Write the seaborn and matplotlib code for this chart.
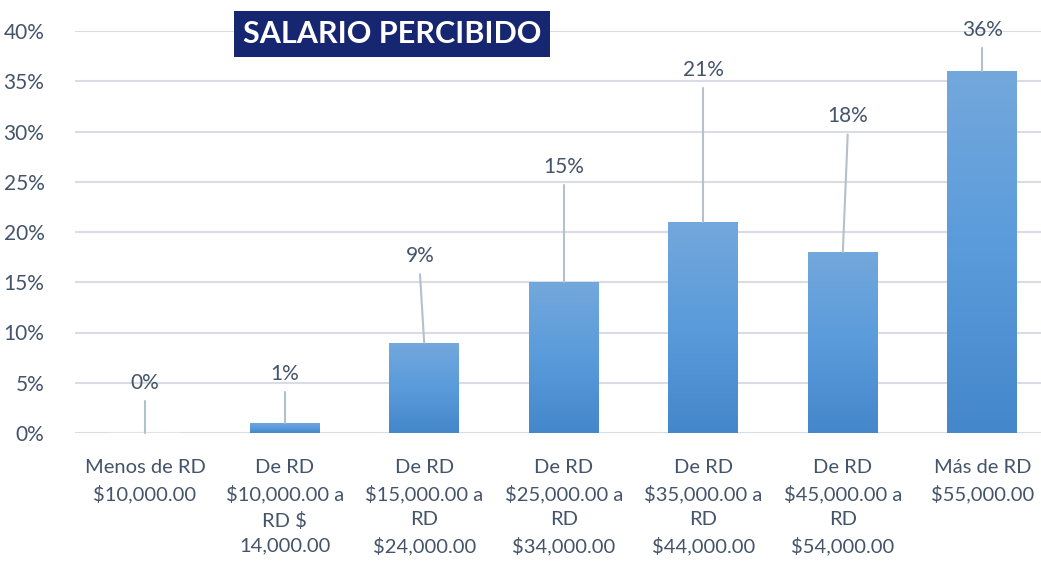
import numpy as np
import matplotlib
matplotlib.use("Agg")
import matplotlib.pyplot as plt
import seaborn as sns
from matplotlib.colors import LinearSegmentedColormap

categories = [
    "Menos de RD\n$10,000.00",
    "De RD\n$10,000.00 a\nRD $\n14,000.00",
    "De RD\n$15,000.00 a\nRD\n$24,000.00",
    "De RD\n$25,000.00 a\nRD\n$34,000.00",
    "De RD\n$35,000.00 a\nRD\n$44,000.00",
    "De RD\n$45,000.00 a\nRD\n$54,000.00",
    "Más de RD\n$55,000.00",
]
percent = [0, 1, 9, 15, 21, 18, 36]
value_labels = ["0%", "1%", "9%", "15%", "21%", "18%", "36%"]
y_ticks = [0, 5, 10, 15, 20, 25, 30, 35, 40]

# where Excel placed the data labels (offset above the bar, x nudge)
label_dy = [5.0, 4.9, 8.6, 11.5, 15.1, 13.5, 4.1]
label_dx = [0, 0, -0.03, 0, 0, 0.035, 0]

text_col = "#44546a"
grid_col = "#d9dde3"

sns.set_style("white")
plt.rcParams["font.family"] = ["Lato", "DejaVu Sans"]

fig = plt.figure(figsize=(10.41, 5.63), dpi=100)
ax = fig.add_axes([75 / 1041, 130 / 563, 966 / 1041, 402 / 563])

sns.barplot(x=list(range(len(percent))), y=percent, color="#5b9bd5",
            width=0.5, ax=ax, zorder=3)

cmap = LinearSegmentedColormap.from_list("bar", ["#4487ca", "#5a9bdb", "#73a8dc"])
grad = np.linspace(0, 1, 256).reshape(-1, 1)
for p in ax.patches:
    x0, w, h = p.get_x(), p.get_width(), p.get_height()
    if h <= 0:
        continue
    im = ax.imshow(grad, cmap=cmap, origin="lower", aspect="auto",
                   extent=[x0, x0 + w, 0, h], zorder=3)
    im.set_clip_path(p)
    p.set_facecolor("none")
    p.set_edgecolor("none")

for i, v in enumerate(percent):
    ly = v + label_dy[i]
    lx = i + label_dx[i]
    ax.plot([lx, i], [ly - 1.8, v], color="#b4c0cc", lw=1.5, zorder=4,
            clip_on=False)
    ax.text(lx, ly, value_labels[i], ha="center", va="center",
            fontsize=15, color=text_col, zorder=5, clip_on=False)

ax.set_xlim(-0.502, 6.42)
ax.set_ylim(0, 40)
ax.set_yticks(y_ticks)
ax.set_yticklabels([f"{t}%" for t in y_ticks], fontsize=15, color=text_col)
ax.set_xticks(range(len(categories)))
ax.set_xticklabels(categories, fontsize=14.5, color=text_col, linespacing=1.55,
                   va="top")
ax.tick_params(axis="both", length=0)
ax.tick_params(axis="y", pad=22)
ax.tick_params(axis="x", pad=19)
ax.yaxis.grid(True, color=grid_col, lw=1.5, zorder=0)
ax.set_axisbelow(True)
for s in ax.spines.values():
    s.set_visible(False)
ax.set_xlabel("")
ax.set_ylabel("")

fig.text(392 / 1041, 1 - 34 / 563, "SALARIO PERCIBIDO", ha="center", va="center",
         fontsize=22, fontweight="bold", color="white",
         bbox=dict(boxstyle="square,pad=0.3", fc="#172670", ec="none"))

fig.savefig("out.png", dpi=100)
